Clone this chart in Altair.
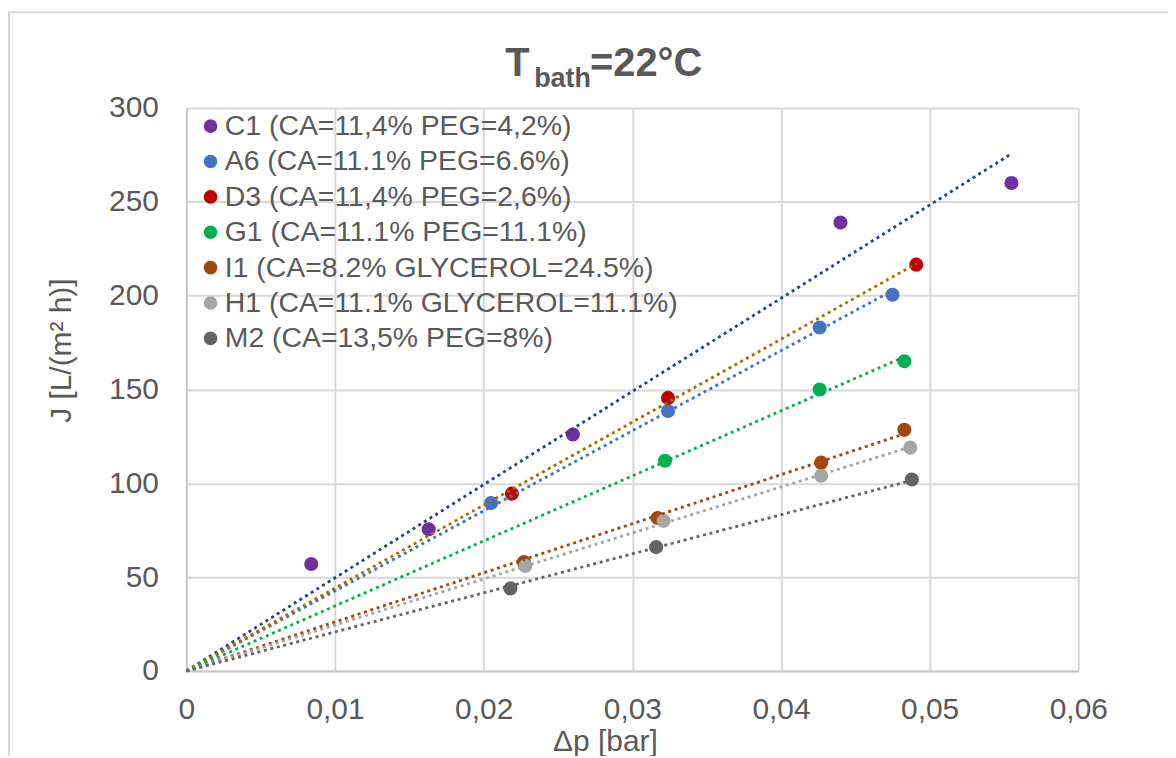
import altair as alt
import numpy as np
import pandas as pd

# ---- data ----
series_names = [
    "C1 (CA=11,4% PEG=4,2%)",
    "A6 (CA=11.1% PEG=6.6%)",
    "D3 (CA=11,4% PEG=2,6%)",
    "G1 (CA=11.1% PEG=11.1%)",
    "I1 (CA=8.2% GLYCEROL=24.5%)",
    "H1 (CA=11.1% GLYCEROL=11.1%)",
    "M2 (CA=13,5% PEG=8%)",
]
c1_x = [0.0084, 0.0163, 0.0260, 0.0440, 0.0555]
c1_y = [57, 75.5, 126, 239, 260]
a6_x = [0.0205, 0.0324, 0.0426, 0.0475]
a6_y = [89.5, 138.5, 183, 200.5]
d3_x = [0.0219, 0.0324, 0.0491]
d3_y = [94.5, 145.5, 216.5]
g1_x = [0.0322, 0.0426, 0.0483]
g1_y = [112, 150, 165]
i1_x = [0.0227, 0.0317, 0.0427, 0.0483]
i1_y = [58, 81.5, 111, 128.5]
h1_x = [0.0228, 0.0321, 0.0427, 0.0487]
h1_y = [56, 80, 104, 119]
m2_x = [0.0218, 0.0316, 0.0488]
m2_y = [44, 66, 102]

point_colors = ["#7030A0", "#4472C4", "#C00000", "#00B050", "#9E480E", "#A5A5A5", "#636363"]
trend_colors = ["#264478", "#4472C4", "#997300", "#00B050", "#9E480E", "#A5A5A5", "#636363"]

xs = [c1_x, a6_x, d3_x, g1_x, i1_x, h1_x, m2_x]
ys = [c1_y, a6_y, d3_y, g1_y, i1_y, h1_y, m2_y]

x_ticks = [0, 0.01, 0.02, 0.03, 0.04, 0.05, 0.06]
y_ticks = [0, 50, 100, 150, 200, 250, 300]

# ---- tables ----
pts_rows = []
trend_rows = []
for name, xv, yv, tc in zip(series_names, xs, ys, trend_colors):
    for a, b in zip(xv, yv):
        pts_rows.append({"series": name, "dp": a, "J": b})
    xa = np.array(xv)
    ya = np.array(yv)
    slope = float((xa * ya).sum() / (xa * xa).sum())  # linear fit through origin
    for a in (0.0, float(xa.max())):
        trend_rows.append({"series": name, "dp": a, "J": slope * a, "tcol": tc})
pts = pd.DataFrame(pts_rows)
trend = pd.DataFrame(trend_rows)

FONT = "Liberation Sans"
GREY = "#595959"

xscale = alt.Scale(domain=[0, 0.06], nice=False, zero=True)
yscale = alt.Scale(domain=[0, 300], nice=False)

xaxis = alt.Axis(
    values=x_ticks,
    labelExpr="datum.value == 0 ? '0' : replace(format(datum.value, '.2f'), '.', ',')",
    title="Δp [bar]",
    titleX=420, titleY=80, titleAlign="center", titleBaseline="alphabetic",
    labelPadding=24, labelFlush=False,
)
yaxis = alt.Axis(
    values=y_ticks,
    title="J [L/(m² h)]",
    titleX=-116, titleY=243, titleAlign="center", titleBaseline="alphabetic",
    labelPadding=28, labelFlush=False,
)

points = alt.Chart(pts).mark_circle(size=200, opacity=1).encode(
    x=alt.X("dp:Q", scale=xscale, axis=xaxis),
    y=alt.Y("J:Q", scale=yscale, axis=yaxis),
    color=alt.Color(
        "series:N",
        scale=alt.Scale(domain=series_names, range=point_colors),
        sort=series_names,
        legend=alt.Legend(
            orient="none", legendX=10, legendY=4, title=None,
            labelFont=FONT, labelFontSize=28.5, labelColor=GREY, labelLimit=700,
            symbolType="circle", symbolSize=185, symbolStrokeWidth=0,
            rowPadding=6.5, labelOffset=0, padding=0,
        ),
    ),
)

lines = alt.Chart(trend).mark_line(strokeWidth=2.8, strokeDash=[3, 3.7]).encode(
    x=alt.X("dp:Q", scale=xscale),
    y=alt.Y("J:Q", scale=yscale),
    detail="series:N",
    color=alt.Color("tcol:N", scale=None),
)

border = alt.Chart(pd.DataFrame({"a": [0]})).mark_rect(
    filled=False, stroke="#D9D9D9", strokeWidth=2
).encode(x=alt.value(-178), x2=alt.value(1100), y=alt.value(-96), y2=alt.value(800))

t_df = pd.DataFrame({"a": [0]})
title_T = alt.Chart(t_df).mark_text(
    text="T", font=FONT, fontSize=40, fontWeight="bold", color=GREY,
    align="left", baseline="alphabetic",
).encode(x=alt.value(320), y=alt.value(-32))
title_sub = alt.Chart(t_df).mark_text(
    text="bath", font=FONT, fontSize=27, fontWeight="bold", color=GREY,
    align="left", baseline="alphabetic",
).encode(x=alt.value(349), y=alt.value(-21))
title_rest = alt.Chart(t_df).mark_text(
    text="=22°C", font=FONT, fontSize=40, fontWeight="bold", color=GREY,
    align="left", baseline="alphabetic",
).encode(x=alt.value(405), y=alt.value(-32))

chart = alt.layer(border, points, lines, title_T, title_sub, title_rest).resolve_scale(
    color="independent"
).properties(
    width=895, height=565,
    autosize=alt.AutoSizeParams(type="none"),
    padding={"left": 179, "top": 99, "right": 90, "bottom": 84},
).configure_view(stroke=None).configure_axis(
    labelFont=FONT, labelFontSize=30, labelColor=GREY,
    titleFont=FONT, titleFontSize=30, titleColor=GREY, titleFontWeight="normal",
    gridColor="#D9D9D9", gridWidth=2,
    domainColor="#C8C8C8", domainWidth=2,
    ticks=False, tickSize=0,
)

chart.save("out.html", embed_options={"renderer": "svg", "actions": False})
